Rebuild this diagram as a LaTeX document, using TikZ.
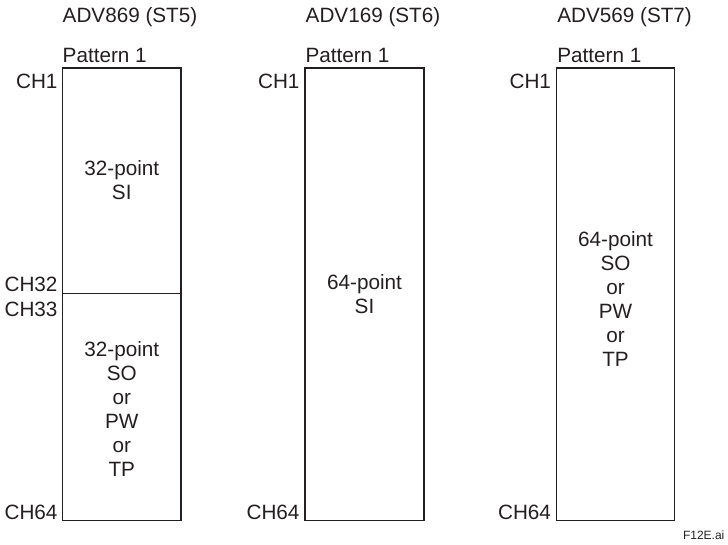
\documentclass[tikz,border=0pt]{standalone}
\usepackage{fontspec}
\setmainfont{Liberation Sans}
\definecolor{ink}{HTML}{231F20}
\begin{document}
\begin{tikzpicture}[x=1pt,y=-1pt,
  every node/.style={inner sep=0pt,outer sep=0pt,text=ink,font=\fontsize{20.7}{24}\selectfont},
  lbl/.style={anchor=base west},
  chl/.style={anchor=base east},
  inner/.style={anchor=base,align=center},
  boxline/.style={draw=ink,line width=1.3pt}]
\useasboundingbox (0,0) rectangle (728,544);
% box corners
\coordinate (a1) at (62.5,68);   \coordinate (b1) at (181,520.5);
\coordinate (a2) at (305,68);    \coordinate (b2) at (424,520.5);
\coordinate (a3) at (556.7,68);  \coordinate (b3) at (674.3,520.5);
\coordinate (d1l) at (62.5,293.7); \coordinate (d1r) at (181,293.7);
\draw[boxline] (a1) rectangle (b1);
\draw[boxline] (a2) rectangle (b2);
\draw[boxline] (a3) rectangle (b3);
\draw[boxline] (d1l) -- (d1r);
% titles
\node[lbl] (t1) at (62.7,22) {ADV869 (ST5)};
\node[lbl] (t2) at (305.7,22) {ADV169 (ST6)};
\node[lbl] (t3) at (557.3,22) {ADV569 (ST7)};
\node[lbl] (p1) at (62.7,62.3) {Pattern 1};
\node[lbl] (p2) at (305.5,62.3) {Pattern 1};
\node[lbl] (p3) at (557.3,62.3) {Pattern 1};
% channel labels
\node[chl] (c11) at (57.5,88.3) {CH1};
\node[chl] (c132) at (57.5,291.7) {CH32};
\node[chl] (c133) at (57.5,316) {CH33};
\node[chl] (c164) at (57.5,519) {CH64};
\node[chl] (c21) at (299.5,88.3) {CH1};
\node[chl] (c264) at (299.5,519) {CH64};
\node[chl] (c31) at (551,88.3) {CH1};
\node[chl] (c364) at (551,519) {CH64};
% inner texts (base anchor = last line baseline)
\node[inner] (i1) at (121.75,199.3) {32-point\\SI};
\node[inner] (i2) at (121.75,476.7) {32-point\\SO\\or\\PW\\or\\TP};
\node[inner] (i3) at (364.5,313.5) {64-point\\SI};
\node[inner] (i4) at (615.5,366.7) {64-point\\SO\\or\\PW\\or\\TP};
% file tag
\node[anchor=base west,font=\fontsize{12}{14}\selectfont] (f) at (683,539) {F12E.ai};
\end{tikzpicture}
\end{document}
